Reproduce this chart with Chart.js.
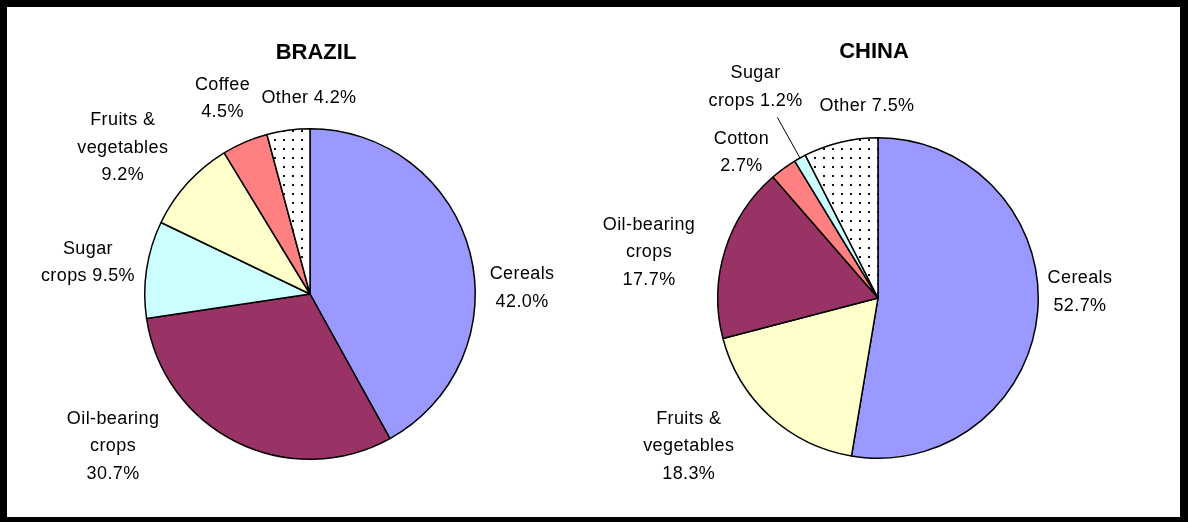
<!DOCTYPE html>
<html>
<head>
<meta charset="utf-8">
<script src="https://cdn.jsdelivr.net/npm/chart.js@4.4.0/dist/chart.umd.min.js"></script>
<style>
  html, body { margin: 0; padding: 0; background: #fff; }
  #frame {
    position: absolute; left: 0; top: 0; width: 1188px; height: 522px;
    box-sizing: border-box; background: #fff;
    border-style: solid; border-color: #000;
    border-width: 7px 8px 5px 7px;
  }
  canvas { position: absolute; top: 0; }
  #brazil { left: 0; }
  #china { left: 594px; }
</style>
</head>
<body>
<div id="frame"></div>
<canvas id="brazil" width="594" height="522"></canvas>
<canvas id="china" width="594" height="522"></canvas>
<script>
// Brazil crop shares (%), clockwise from 12 o'clock
const brazilCategories = ['Cereals', 'Oil-bearing crops', 'Sugar crops', 'Fruits & vegetables', 'Coffee', 'Other'];
const brazilValues = [42.0, 30.7, 9.5, 9.2, 4.5, 4.2];

// China crop shares (%)
const chinaCategories = ['Cereals', 'Fruits & vegetables', 'Oil-bearing crops', 'Cotton', 'Sugar crops', 'Other'];
const chinaValues = [52.7, 18.3, 17.7, 2.7, 1.2, 7.5];

// how each label is broken into lines, {v} = the value
const brazilLabelText = ['Cereals\n{v}', 'Oil-bearing\ncrops\n{v}', 'Sugar\ncrops {v}', 'Fruits &\nvegetables\n{v}', 'Coffee\n{v}', 'Other {v}'];
const chinaLabelText = ['Cereals\n{v}', 'Fruits &\nvegetables\n{v}', 'Oil-bearing\ncrops\n{v}', 'Cotton\n{v}', 'Sugar\ncrops {v}', 'Other {v}'];

// label placement: angle shift from slice middle (deg) and distance in radii
const brazilLabelShift = [12.9, 26.0, -0.5, -4.2, -0.9, 7.25];
const brazilLabelDist = [1.284, 1.507, 1.357, 1.437, 1.297, 1.187];
const chinaLabelShift = [-6.5, 9.5, -5.9, -7.0, -1.0, 10.2];
const chinaLabelDist = [1.261, 1.50, 1.457, 1.246, 1.522, 1.20];
const chinaLeader = [0, 0, 0, 0, 1.29, 0];

// dotted fill for "Other"
function dotPattern() {
    const c = document.createElement('canvas');
    c.width = 9; c.height = 9;
    const g = c.getContext('2d');
    g.fillStyle = '#fff';
    g.fillRect(0, 0, 9, 9);
    g.fillStyle = '#111';
    g.fillRect(4, 4, 2, 2);
    return g.createPattern(c, 'repeat');
}

const pieLabels = {
    id: 'pieLabels',
    afterDraw(chart, args, opts) {
        const ctx = chart.ctx;
        const meta = chart.getDatasetMeta(0);
        const values = chart.data.datasets[0].data;
        let cx = 0, cy = 0, R = 0;
        ctx.save();
        ctx.fillStyle = '#000';
        ctx.strokeStyle = '#000';
        ctx.lineWidth = 1;
        ctx.textAlign = 'center';
        ctx.textBaseline = 'middle';
        ctx.font = '18px "Liberation Sans", Arial, sans-serif';
        ctx.letterSpacing = '0.4px';
        meta.data.forEach((arc, i) => {
            const p = arc.getProps(['x', 'y', 'startAngle', 'endAngle', 'outerRadius'], true);
            cx = p.x; cy = p.y; R = p.outerRadius;
            const mid = (p.startAngle + p.endAngle) / 2;
            if (opts.leader && opts.leader[i]) {
                ctx.beginPath();
                ctx.moveTo(p.x + Math.cos(mid) * R, p.y + Math.sin(mid) * R);
                ctx.lineTo(p.x + Math.cos(mid) * R * opts.leader[i], p.y + Math.sin(mid) * R * opts.leader[i]);
                ctx.stroke();
            }
            const a = mid + opts.shift[i] * Math.PI / 180;
            const r = R * opts.dist[i];
            const lx = p.x + Math.cos(a) * r;
            const ly = p.y + Math.sin(a) * r;
            const lines = opts.text[i].replace('{v}', values[i].toFixed(1) + '%').split('\n');
            const lh = 27.5;
            lines.forEach((ln, k) => {
                ctx.fillText(ln, lx, ly + (k - (lines.length - 1) / 2) * lh);
            });
        });
        ctx.letterSpacing = '0px';
        ctx.font = 'bold 22px "Liberation Sans", Arial, sans-serif';
        ctx.fillText(opts.title, cx + opts.titleDx, opts.titleY);
        ctx.restore();
    }
};

function makePie(id, categories, values, fills, pad, labelOpts) {
    return new Chart(document.getElementById(id), {
        type: 'pie',
        data: {
            labels: categories,
            datasets: [{
                data: values,
                backgroundColor: fills,
                borderColor: '#000',
                borderWidth: 1.5
            }]
        },
        options: {
            responsive: false,
            animation: false,
            layout: { padding: pad },
            plugins: {
                legend: { display: false },
                tooltip: { enabled: false },
                title: { display: false },
                pieLabels: labelOpts
            }
        },
        plugins: [pieLabels]
    });
}

makePie('brazil', brazilCategories, brazilValues,
    ['#9999FF', '#993366', '#CCFFFF', '#FFFFCC', '#FF8080', dotPattern()],
    { left: 144, right: 118, top: 128, bottom: 62 },
    { text: brazilLabelText, shift: brazilLabelShift, dist: brazilLabelDist, title: 'BRAZIL', titleDx: 6, titleY: 53 });

makePie('china', chinaCategories, chinaValues,
    ['#9999FF', '#FFFFCC', '#993366', '#FF8080', '#CCFFFF', dotPattern()],
    { left: 123, right: 149, top: 137, bottom: 63 },
    { text: chinaLabelText, shift: chinaLabelShift, dist: chinaLabelDist, leader: chinaLeader, title: 'CHINA', titleDx: -4, titleY: 52 });
</script>
</body>
</html>
